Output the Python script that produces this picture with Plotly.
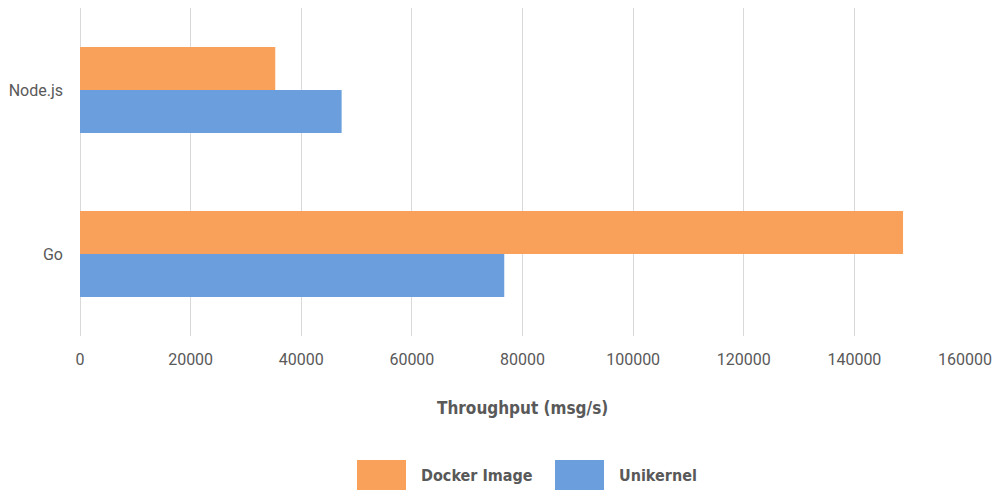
import plotly.graph_objects as go

runtimes = ["Node.js", "Go"]
docker_image = [35300, 148800]
unikernel = [47300, 76700]
series_names = ["Docker Image", "Unikernel"]
x_ticks = [0, 20000, 40000, 60000, 80000, 100000, 120000, 140000, 160000]

ORANGE = "#F9A05A"
BLUE = "#6A9EDC"
TEXT = "#595959"
GRID = "#D9D9D9"
COND = "DejaVu Sans Condensed"

W, H = 996, 495
ML, MR, MT, MB = 80, 31, 8, 159

fig = go.Figure()
fig.add_trace(go.Bar(y=runtimes, x=docker_image, name=series_names[0],
                     orientation="h", marker=dict(color=ORANGE, line_width=0)))
fig.add_trace(go.Bar(y=runtimes, x=unikernel, name=series_names[1],
                     orientation="h", marker=dict(color=BLUE, line_width=0)))

fig.update_layout(
    width=W, height=H,
    margin=dict(l=ML, r=MR, t=MT, b=MB, autoexpand=False),
    plot_bgcolor="white", paper_bgcolor="white",
    barmode="group", bargap=0.475, bargroupgap=0,
    showlegend=False,
    font=dict(family="Roboto", size=16, color=TEXT),
)
fig.update_xaxes(
    range=[0, 160000], tickvals=x_ticks, ticktext=[str(v) for v in x_ticks],
    showgrid=True, gridcolor=GRID, gridwidth=1,
    zeroline=True, zerolinecolor=GRID, zerolinewidth=1,
    showline=False, ticks="", ticklabelstandoff=12, automargin=False,
    tickfont=dict(family="Roboto", size=16, color=TEXT),
)
fig.update_yaxes(
    autorange="reversed", showgrid=False, zeroline=False, showline=False,
    ticks="", ticklabelstandoff=16, automargin=False,
    tickfont=dict(family="Roboto", size=16, color=TEXT),
)

# axis title
fig.add_annotation(text="<b>Throughput (msg/s)</b>", xref="paper", yref="paper",
                   x=0.5, y=-(408 - (H - MB)) / (H - MT - MB), showarrow=False,
                   font=dict(family=COND, size=17, color=TEXT),
                   xanchor="center", yanchor="middle")

# custom legend with large swatches
ph = H - MT - MB
pw = W - ML - MR
def px_x(v):
    return (v - ML) / pw
def px_y(v):
    return (H - MB - v) / ph

legend_items = [(series_names[0], ORANGE, 357), (series_names[1], BLUE, 555)]
for name, color, left in legend_items:
    fig.add_shape(type="rect", xref="paper", yref="paper",
                  x0=px_x(left), x1=px_x(left + 49), y0=px_y(490), y1=px_y(460),
                  fillcolor=color, line_width=0)
    fig.add_annotation(text="<b>" + name + "</b>", xref="paper", yref="paper",
                       x=px_x(left + 62), y=px_y(475), showarrow=False,
                       xanchor="left", yanchor="middle",
                       font=dict(family=COND, size=16, color=TEXT))

# drop the default 8px page margin so the figure sits at the window corner
fig.write_html("out.html", config={"displayModeBar": False},
               post_script="document.body.style.margin='0';")
